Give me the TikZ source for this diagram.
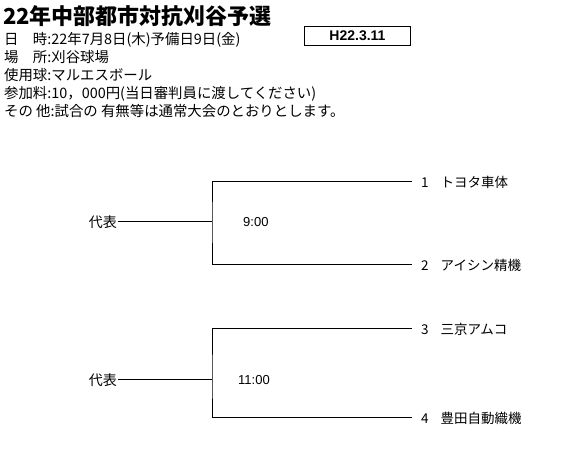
\documentclass[tikz,border=0pt]{standalone}
\usepackage{fontspec}
\setmainfont{Noto Sans CJK JP}
\newfontfamily\latinfont{Liberation Sans}
\usetikzlibrary{positioning}

\begin{document}
\begin{tikzpicture}[
        x=1pt, y=-1pt,
        header/.style = {anchor=base west, inner sep=0pt,
                         font=\fontsize{14.4}{16}\selectfont},
        datebox/.style = {draw, line width=1.6pt, minimum width=106pt,
                          minimum height=19pt, inner sep=0pt,
                          font=\latinfont\bfseries\fontsize{14}{16}\selectfont},
        rep/.style    = {anchor=east, inner sep=1pt,
                         font=\fontsize{14}{16}\selectfont},
        team/.style   = {anchor=west, inner xsep=9pt, inner ysep=0pt,
                         font=\fontsize{13.5}{16}\selectfont},
        clock/.style  = {anchor=west, inner sep=0pt,
                         font=\latinfont\fontsize{13}{15}\selectfont},
        bracket/.style = {line width=1pt}
    ]
        \useasboundingbox (0,0) rectangle (566,465);

        % ---- Header ----
        \node[header, font=\bfseries\fontsize{22}{26}\selectfont] (title) at (3,24.5)
            {22年中部都市対抗刈谷予選};
        \node[header] (h1) at (4,45) {日　時:22年7月8日(木)予備日9日(金)};
        \node[header] (h2) at (4,62.6) {場　所:刈谷球場};
        \node[header] (h3) at (4,80.4) {使用球:マルエスボール};
        \node[header] (h4) at (4,99) {参加料:10，000円(当日審判員に渡してください)};
        \node[header] (h5) at (4,116.4) {その 他:試合の 有無等は通常大会のとおりとします。};
        \node[datebox] (date) at (357.5,36) {H22.3.11};

        % ---- First match ----
        \node[rep] (r1) at (118,222) {代表};
        \coordinate (j1) at (212,222);
        \node[team] (t1) at (412,182) {1\hspace{12pt}トヨタ車体};
        \node[team] (t2) at (412,265) {2\hspace{12pt}アイシン精機};
        \node[clock] (c1) at (243,222) {9:00};
        \draw[bracket] (r1.east) -- (j1);
        \draw[bracket] (t1.west) -| (j1) |- (t2.west);

        % ---- Second match ----
        \node[rep] (r2) at (118,380) {代表};
        \coordinate (j2) at (212,380);
        \node[team] (t3) at (412,329) {3\hspace{12pt}三京アムコ};
        \node[team] (t4) at (412,418) {4\hspace{12pt}豊田自動織機};
        \node[clock] (c2) at (238,380) {11:00};
        \draw[bracket] (r2.east) -- (j2);
        \draw[bracket] (t3.west) -| (j2) |- (t4.west);
    \end{tikzpicture}
\end{document}
